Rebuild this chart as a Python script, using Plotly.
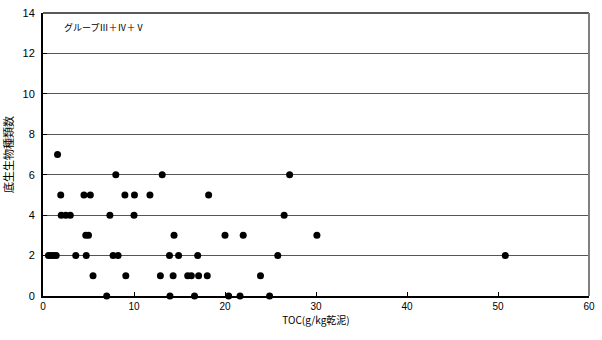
import plotly.graph_objects as go

toc = [1.6, 8.0, 1.95, 4.5, 5.2, 9.0, 10.05, 2.0, 2.5, 3.0, 7.35, 10.0,
       4.7, 5.0, 0.6, 0.9, 1.2, 1.45, 3.6, 4.75, 7.7, 8.25, 5.5, 9.1, 7.0,
       13.1, 11.75, 18.2, 14.4, 20.0, 13.9, 14.9, 17.0, 12.9, 14.3, 15.9,
       16.3, 17.1, 18.05, 13.95, 16.65, 27.1, 26.5, 22.0, 30.1, 25.8, 23.9,
       20.4, 21.65, 24.9, 50.8]
species = [7, 6, 5, 5, 5, 5, 5, 4, 4, 4, 4, 4,
           3, 3, 2, 2, 2, 2, 2, 2, 2, 2, 1, 1, 0,
           6, 5, 5, 3, 3, 2, 2, 2, 1, 1, 1,
           1, 1, 1, 0, 0, 6, 4, 3, 3, 2, 1,
           0, 0, 0, 2]

jp = "Noto Sans CJK JP"
fig = go.Figure()
fig.add_trace(go.Scatter(x=toc, y=species, mode="markers",
                         marker=dict(color="black", size=7), cliponaxis=False))

fig.add_annotation(x=0.035, y=0.95, xref="paper", yref="paper", text="グループⅢ＋Ⅳ＋Ⅴ",
                   showarrow=False, xanchor="left", yanchor="middle",
                   font=dict(family=jp, size=9, color="black"))

fig.update_layout(
    width=602, height=340,
    margin=dict(l=42, r=7, t=11, b=44),
    paper_bgcolor="white", plot_bgcolor="white",
    showlegend=False,
    font=dict(family="Liberation Sans, Arial", size=11, color="black"),
    xaxis=dict(range=[0, 60], dtick=10, tick0=0, showgrid=False, zeroline=False,
               showline=True, linecolor="black", linewidth=2, ticks="inside",
               ticklen=4, tickcolor="black", ticklabeloverflow="allow",
               tickfont=dict(size=10),
               title=dict(text="TOC(g/kg乾泥)", font=dict(family=jp, size=10), standoff=6)),
    yaxis=dict(range=[0, 14], dtick=2, tick0=0, showgrid=True, gridcolor="#555555",
               gridwidth=1, zeroline=False, showline=True, linecolor="black", linewidth=2,
               ticks="inside", ticklen=4, tickcolor="black", ticklabelstandoff=4,
               title=dict(text="底生生物種類数", font=dict(family=jp, size=11), standoff=8)),
    shapes=[dict(type="line", xref="paper", yref="paper", x0=0, x1=1, y0=1, y1=1,
                 line=dict(color="#222222", width=1.5)),
            dict(type="line", xref="paper", yref="paper", x0=1, x1=1, y0=0, y1=1,
                 line=dict(color="#808080", width=2))],
)
fig.write_html("out.html")
